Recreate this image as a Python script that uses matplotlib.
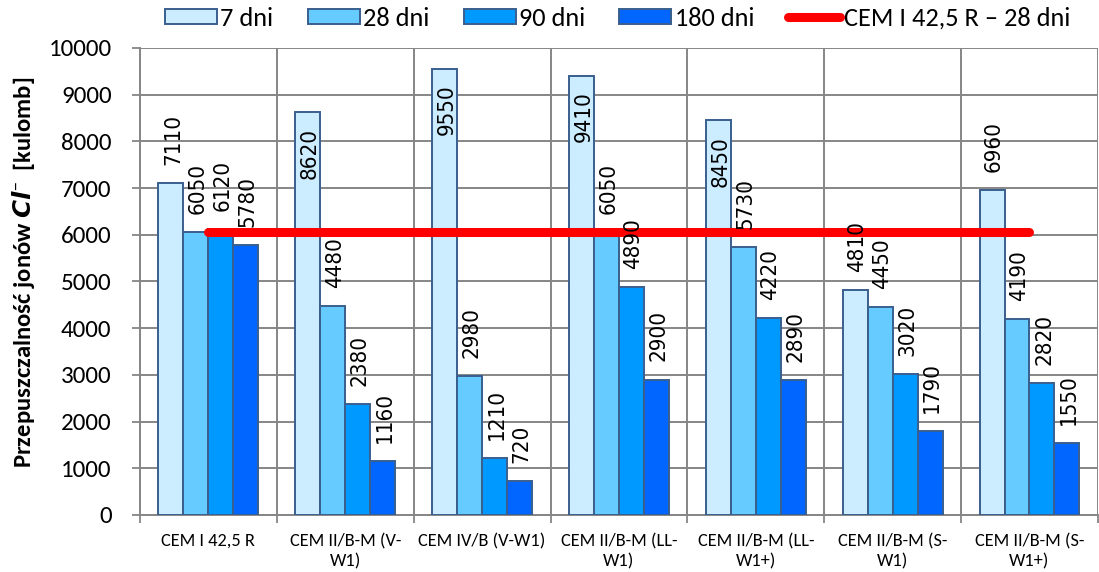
import matplotlib
matplotlib.use("Agg")
import matplotlib.pyplot as plt
from matplotlib import font_manager as fm
from matplotlib.patches import Patch
from matplotlib.lines import Line2D
import numpy as np

categories = ["CEM I 42,5 R", "CEM II/B-M (V-\nW1)", "CEM IV/B (V-W1)",
              "CEM II/B-M (LL-\nW1)", "CEM II/B-M (LL-\nW1+)", "CEM II/B-M (S-\nW1)",
              "CEM II/B-M (S-\nW1+)"]
series_names = ["7 dni", "28 dni", "90 dni", "180 dni"]
d7 = [7110, 8620, 9550, 9410, 8450, 4810, 6960]
d28 = [6050, 4480, 2980, 6050, 5730, 4450, 4190]
d90 = [6120, 2380, 1210, 4890, 4220, 3020, 2820]
d180 = [5780, 1160, 720, 2900, 2890, 1790, 1550]
reference_name = "CEM I 42,5 R \u2013 28 dni"
reference_value = 6050
yticks = [0, 1000, 2000, 3000, 4000, 5000, 6000, 7000, 8000, 9000, 10000]

available = {f.name for f in fm.fontManager.ttflist}


def pick(*names):
    for n in names:
        if n in available:
            return n
    return "DejaVu Sans"


ui_font = pick("Carlito", "Lato", "Open Sans", "Liberation Sans")

# value labels: condensed DejaVu when the system provides it
cond_path = fm.findfont(fm.FontProperties(family="DejaVu Sans", stretch="condensed"))
label_stretch = "condensed" if "Condensed" in cond_path else "normal"
label_size = 16 if label_stretch == "condensed" else 14.5

colors = ["#CCECFF", "#66CCFF", "#0099FF", "#0066FF"]
edge = "#3A5F8E"
grid_c = "#868686"

fig = plt.figure(figsize=(10.99, 5.72), dpi=100)
ax = fig.add_axes([0.1274, 0.0997, 0.8716, 0.8164])

x = np.arange(len(categories))
w = 0.1825
all_series = [d7, d28, d90, d180]
for i, (vals, c) in enumerate(zip(all_series, colors)):
    pos = x + (i - 1.5) * w
    ax.bar(pos, vals, width=w, color=c, edgecolor=edge, linewidth=1.4, zorder=3)
    for px, v in zip(pos, vals):
        if v + 1700 <= 10000:
            ax.annotate(f"{v}", (px, v), xytext=(1.5, 13), textcoords="offset points",
                        rotation=90, ha="center", va="bottom", fontsize=label_size,
                        family="DejaVu Sans", fontstretch=label_stretch, zorder=5)
        else:
            ax.annotate(f"{v}", (px, v), xytext=(1.5, -11), textcoords="offset points",
                        rotation=90, ha="center", va="top", fontsize=label_size,
                        family="DejaVu Sans", fontstretch=label_stretch, zorder=5)

ax.plot(x, [reference_value] * len(x), color="#FF0000", lw=6.5,
        solid_capstyle="round", zorder=4)

ax.set_xlim(-0.5, len(categories) - 0.5)
ax.set_ylim(0, 10000)
ax.set_yticks(yticks)
ax.set_yticklabels([str(t) for t in yticks], fontsize=18, family=ui_font)
ax.set_xticks(x)
ax.set_xticklabels(categories, fontsize=13.2, family=ui_font, linespacing=1.3)
ax.tick_params(axis="x", length=0, pad=13)
ax.set_xticks(np.arange(-0.5, len(categories), 1), minor=True)
ax.tick_params(axis="x", which="minor", length=6, width=1.3, color=grid_c)
ax.tick_params(axis="y", length=6, width=1.3, color=grid_c, pad=14.5)

ax.grid(axis="y", color=grid_c, lw=1.4, zorder=0)
ax.grid(axis="x", which="minor", color=grid_c, lw=1.4, zorder=0)
for s in ["top", "right"]:
    ax.spines[s].set_visible(False)
for s in ["left", "bottom"]:
    ax.spines[s].set_color(grid_c)
    ax.spines[s].set_linewidth(1.4)
    ax.spines[s].set_zorder(0)

ax.set_ylabel("Przepuszczalność jonów $\\mathbfit{Cl}^{\\mathbf{\u2013}}$  [kulomb]",
              fontsize=17.7, fontweight="bold", family=ui_font)
ax.yaxis.set_label_coords(-0.1075, 0.52)

handles = [Patch(facecolor=c, edgecolor=edge, linewidth=1.4) for c in colors]
handles.append(Line2D([0], [0], color="#FF0000", lw=6.5, solid_capstyle="round"))
fig.legend(handles, series_names + [reference_name], loc="center",
           bbox_to_anchor=(0.562, 0.968), ncol=5, frameon=False,
           prop={"family": ui_font, "size": 19},
           handlelength=1.97, handleheight=0.53, handletextpad=0.12,
           columnspacing=1.3, borderpad=0.2)

fig.savefig("out.png", dpi=100)
